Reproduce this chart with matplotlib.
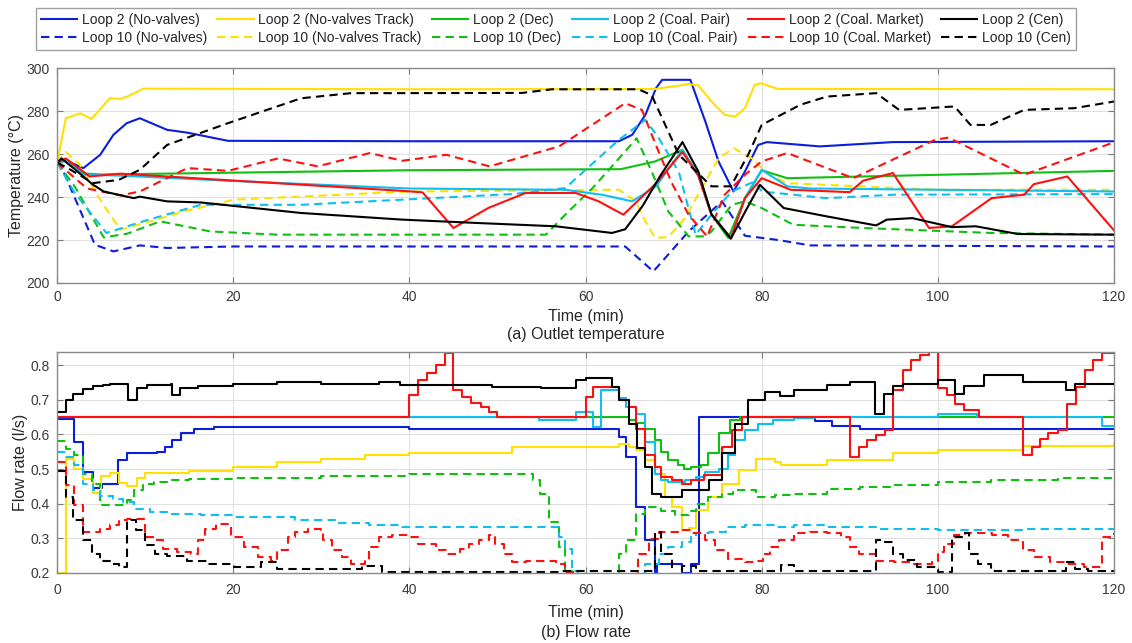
import matplotlib
matplotlib.use('Agg')
import matplotlib.pyplot as plt

plt.rcParams['font.family'] = ['Liberation Sans', 'DejaVu Sans']

# ---- (a) outlet temperature ----
t_temp_l2_nv = [0, 1, 3, 4.9, 6.4, 7.9, 9.4, 12.5, 14.8, 19.4, 40, 63.8, 65.3, 66.8, 68, 68.7, 71.9, 73.6, 75.1, 76.8, 78.1, 79.6, 80.6, 86.6, 94.9, 120]
temp_l2_nv = [256, 257, 253.5, 259.7, 269, 274.4, 276.7, 271.3, 270, 266.2, 266, 266, 269, 278.3, 290.7, 294.6, 294.6, 275.2, 256.6, 242.6, 251.9, 264.3, 265.6, 263.6, 265.6, 266]
t_temp_l10_nv = [0, 0.3, 2.5, 4.3, 6.4, 9.4, 12.5, 20, 64.5, 67.7, 71.7, 75.5, 78.1, 81.9, 85.5, 120]
temp_l10_nv = [256, 256, 235, 217.8, 214.7, 217.5, 216.3, 217, 217, 205.4, 224, 238, 222, 220, 217.5, 217]

t_temp_l2_nvt = [0, 1, 2.6, 3.9, 6, 7.2, 8.1, 9.8, 40, 67.9, 71.7, 72.8, 74.3, 75.8, 77, 78.1, 79.2, 79.9, 81.8, 120]
temp_l2_nvt = [256, 276.7, 279, 276.4, 286, 285.7, 287, 290.5, 290.2, 290.3, 292.6, 292, 284.5, 278.3, 277.5, 281.4, 292.2, 293, 290.4, 290.2]
t_temp_l10_nvt = [0, 1, 2.6, 5, 7.2, 10, 14.4, 20.1, 40, 63.8, 65.7, 66.8, 67.9, 69.4, 71.3, 73.2, 75.1, 76.8, 78.9, 80.8, 82.9, 91.1, 100, 120]
temp_l10_nvt = [256, 261, 255, 238, 224.8, 228, 233.3, 238.8, 242.6, 243.4, 238, 228.7, 220.9, 221.5, 230.2, 244.2, 258, 262.8, 258, 250.4, 246.5, 245, 243.4, 243.4]

t_temp_l2_dec = [0, 1, 3, 5, 40, 64, 67.9, 71, 72.8, 74.3, 76.2, 78.1, 80, 82.9, 120]
temp_l2_dec = [256, 257, 251, 250.5, 252.5, 253, 256.6, 262, 250.4, 231.8, 221, 239.5, 252.5, 248.8, 252.2]
t_temp_l10_dec = [0, 2, 5.3, 8, 11.7, 17.4, 25, 55.5, 57.7, 60.8, 63.8, 65.8, 67.5, 69.4, 71.7, 73.6, 74.3, 76.6, 78.1, 80, 83.6, 91.5, 106, 120]
temp_l10_dec = [256, 245, 221.2, 223, 228.7, 224, 222.5, 222.5, 231.8, 244.2, 258, 267.4, 252, 233.3, 221.7, 221.7, 224, 236.4, 238, 234.9, 227.1, 225.6, 223.3, 222.5]

t_temp_l2_cp = [0, 1, 3, 7, 20, 40, 57.7, 62, 65.3, 68, 71, 72.8, 74.3, 76.5, 78.1, 80, 82.9, 85.5, 120]
temp_l2_cp = [256, 257, 250.5, 250, 247.5, 244, 243.4, 241, 238, 245, 262, 250, 232, 221, 239.5, 252.7, 245, 244, 242.6]
t_temp_l10_cp = [0, 2, 5.6, 10, 16.3, 27.7, 39.2, 51.7, 57.7, 63.8, 66.8, 68.3, 70.6, 72.5, 74.3, 76.6, 79.2, 80, 87.4, 95, 120]
temp_l10_cp = [256, 242, 223.3, 229, 236.4, 236.4, 238.8, 241.4, 244.2, 266.7, 276, 267.6, 251.6, 222.5, 231.8, 242.6, 247.3, 242.6, 239.5, 241.1, 241.4]

t_temp_l2_cm = [0, 1, 3.7, 7.2, 39.2, 41.5, 45, 49, 53.2, 58.9, 61.5, 64.3, 67.9, 71, 72.8, 74.3, 76.5, 78.1, 80, 83.3, 90, 91.5, 94.9, 99, 101.6, 106.1, 109.8, 110.9, 114.7, 120]
temp_l2_cm = [256, 258, 249.6, 250.9, 242.9, 242.2, 225.6, 235, 241.9, 241.9, 238, 231.8, 246, 261, 250, 231.8, 221, 239.5, 248.8, 243.4, 242.3, 247.6, 251.2, 225.6, 226.4, 239.5, 241.1, 246, 249.6, 224.5]
t_temp_l10_cm = [0, 3.4, 7.2, 9.4, 14.8, 19.4, 25.1, 29.6, 35.5, 39.2, 44.2, 49.1, 57, 64.5, 66.4, 67.9, 69.8, 71.7, 73.8, 75.8, 78.1, 80, 82.9, 90.4, 99.7, 101.2, 109.8, 120]
temp_l10_cm = [256, 244, 240.8, 242.6, 253.5, 252.2, 258, 254.3, 260.5, 256.9, 259.7, 254.3, 263.6, 283.7, 280.6, 265.1, 246.5, 231.8, 221.7, 241.1, 250.4, 256.6, 260.5, 248.8, 266.7, 267.7, 250.4, 265.5]

t_temp_l2_cen = [0, 0.5, 2, 4.1, 5.3, 8.7, 9.4, 12.5, 16.3, 27.7, 39.2, 47.9, 56.6, 63, 64.5, 66.5, 68.5, 71, 72.8, 74.3, 76.5, 78.1, 79.8, 82.5, 87.4, 93, 94.2, 97.1, 101.6, 104.3, 109.1, 120]
temp_l2_cen = [256, 258, 253, 245.7, 242.6, 239.5, 240.2, 238, 237.5, 232.6, 229.5, 227.9, 226.4, 223.3, 225, 236, 250, 265.6, 252, 232, 220.6, 233, 245.7, 234.9, 231, 226.8, 229.5, 230.2, 226, 226.4, 222.8, 222.5]
t_temp_l10_cen = [0, 1, 4.1, 7, 9.4, 12.5, 19.4, 27.7, 33.4, 39.2, 52.8, 56.2, 66, 67.5, 70.6, 74.3, 76.5, 78.5, 80, 84.4, 87.4, 93, 95.6, 101.9, 103.7, 106, 109.8, 115.5, 120]
temp_l10_cen = [256, 254, 246.5, 248, 252.7, 264.3, 274.4, 286, 288.4, 288.4, 288.5, 290.2, 290.2, 287.5, 259.7, 245, 245, 260, 273.6, 283, 286.8, 288.4, 280.6, 282.2, 273.6, 273.6, 280.6, 281.4, 284.5]

# ---- (b) flow rate (stepwise); Loop 10 No-valves / No-valves Track stay below the visible range ----
t_flow_l2_nv = [0, 1.9, 3, 4.1, 5.1, 6.9, 7.9, 11.4, 12.2, 13, 14.1, 15.5, 17.8, 40, 62.6, 63.8, 64.6, 65.7, 66.8, 67.9, 68.1, 70.9, 72, 72.9, 86.1, 88, 91.2, 120]
flow_l2_nv = [0.645, 0.578, 0.492, 0.444, 0.458, 0.526, 0.545, 0.55, 0.564, 0.583, 0.603, 0.617, 0.62, 0.617, 0.617, 0.593, 0.535, 0.39, 0.294, 0.2, 0.225, 0.2, 0.225, 0.65, 0.64, 0.625, 0.617, 0.617]

t_flow_l2_nvt = [0, 1, 1.9, 3, 4.1, 5, 6, 7, 7.9, 9.1,
                 10, 15, 20, 25, 30, 35, 40, 51.7, 63.8, 64.9,
                 65.7, 66.8, 67.9, 69, 69.8, 70.9, 71.7, 72.5, 73.9, 75.5,
                 77.4, 79.3, 81.5, 82.2, 84.8, 87.4, 94.9, 100, 109.7, 120]
flow_l2_nvt = [0.2, 0.53, 0.5, 0.47, 0.43, 0.48, 0.49, 0.46, 0.45, 0.475,
               0.49, 0.495, 0.505, 0.52, 0.53, 0.54, 0.547, 0.564, 0.572, 0.565,
               0.554, 0.525, 0.487, 0.419, 0.39, 0.323, 0.33, 0.381, 0.419, 0.458,
               0.497, 0.53, 0.52, 0.511, 0.511, 0.525, 0.545, 0.556, 0.566, 0.572]

t_flow_l2_dec = [0, 64.9, 65.7, 66.8, 67.9, 68.6, 69.4, 70.5, 71.2, 72, 73.1, 73.9, 75.1, 76.4, 77.5, 120]
flow_l2_dec = [0.651, 0.641, 0.632, 0.617, 0.583, 0.55, 0.525, 0.511, 0.5, 0.505, 0.511, 0.545, 0.603, 0.641, 0.651, 0.651]
t_flow_l10_dec = [0, 1, 1.9, 3, 4, 4.9, 7.9, 8.7, 9.8, 11,
                  12.5, 15, 20, 30, 40, 53.6, 54, 54.8, 55.8, 57,
                  57.7, 58.5, 63.8, 64.6, 65.7, 66.8, 68.6, 70.2, 71.7, 72.5,
                  73.9, 75.5, 76.8, 79.3, 81.5, 83.7, 87.4, 91.2, 94.9, 100,
                  106, 113.6, 120]
flow_l10_dec = [0.58, 0.559, 0.54, 0.487, 0.458, 0.395, 0.412, 0.439, 0.458, 0.463,
                0.468, 0.472, 0.475, 0.48, 0.485, 0.487, 0.468, 0.429, 0.347, 0.275,
                0.207, 0.198, 0.256, 0.295, 0.371, 0.39, 0.38, 0.366, 0.38, 0.40,
                0.419, 0.429, 0.439, 0.419, 0.424, 0.429, 0.443, 0.448, 0.455, 0.463,
                0.468, 0.475, 0.479]

t_flow_l2_cp = [0, 54.7, 58.9, 60.8, 61.8, 63.8, 64.6, 65.7, 66.8, 67.9, 68.6, 69.4, 71.3, 72.5, 73.6, 75.1, 76.2, 77, 78.1, 79.6, 81.3, 82, 83.7, 86.1, 100, 104.5, 118.6, 120]
flow_l2_cp = [0.651, 0.641, 0.665, 0.622, 0.728, 0.704, 0.68, 0.66, 0.578, 0.487, 0.468, 0.463, 0.468, 0.477, 0.492, 0.5, 0.54, 0.583, 0.612, 0.631, 0.641, 0.641, 0.648, 0.651, 0.66, 0.651, 0.624, 0.624]
t_flow_l10_cp = [0, 1, 1.9, 3, 4.1, 4.9, 6.4, 7.5, 8.7, 10.6, 12.5, 16.3, 20.1, 27, 31.5, 35.4, 39.2, 57, 57.7, 58.5, 59.2, 66.8, 68.3, 69.4, 70.9, 72, 72.5, 74, 76, 78.1, 81.5, 83.7, 87.4, 93, 100, 109.7, 120]
flow_l10_cp = [0.55, 0.535, 0.511, 0.458, 0.439, 0.421, 0.415, 0.405, 0.386, 0.376, 0.371, 0.367, 0.362, 0.352, 0.345, 0.338, 0.333, 0.304, 0.27, 0.207, 0.198, 0.227, 0.256, 0.275, 0.289, 0.304, 0.314, 0.318, 0.333, 0.338, 0.333, 0.338, 0.333, 0.328, 0.323, 0.328, 0.323]

t_flow_l2_cm = [0, 40, 41, 42, 43, 44, 45, 46, 47, 48.1,
                49, 50, 60, 60.8, 62.6, 63.8, 64.9, 65.7, 66.8, 67.9,
                68.6, 69.8, 70.9, 72, 73.5, 75.5, 76.6, 77.8, 90, 91,
                92, 93, 94, 94.9, 96, 97, 98, 99, 100, 101,
                102, 103, 104.7, 109.7, 110.7, 111.6, 112.5, 113.6, 114.7, 115.7,
                116.7, 117.6, 118.6, 120]
flow_l2_cm = [0.651, 0.713, 0.757, 0.776, 0.8, 0.834, 0.728, 0.709, 0.69, 0.68,
              0.665, 0.651, 0.708, 0.737, 0.737, 0.699, 0.68, 0.617, 0.54, 0.506,
              0.477, 0.468, 0.458, 0.468, 0.482, 0.564, 0.612, 0.651, 0.535, 0.564,
              0.583, 0.597, 0.612, 0.728, 0.786, 0.814, 0.829, 0.84, 0.733, 0.713,
              0.689, 0.67, 0.651, 0.54, 0.564, 0.588, 0.603, 0.612, 0.689, 0.737,
              0.786, 0.814, 0.834, 0.834]
t_flow_l10_cm = [0, 1, 1.9, 3, 4.9, 6, 7, 7.9, 10, 11.1,
                 12, 13.6, 15.2, 16, 16.8, 18, 19.7, 21.2, 22.8, 24.3,
                 25, 26.2, 27, 28.5, 30, 30.2, 31.2, 32.3, 33.4, 35,
                 35.4, 36.5, 38, 40, 41, 43, 44.2, 45.7, 46.8, 47.9,
                 49, 49.7, 50.8, 51.7, 53.2, 56.6, 57.7, 59.2, 66, 67.2,
                 68.3, 70.5, 72, 73.6, 74.7, 76.2, 78.1, 79.4, 80.2, 81,
                 82, 83.7, 85.5, 87.4, 89, 90, 91.1, 93, 95, 96.8,
                 99.3, 100, 100.7, 101.8, 103.1, 106.1, 108, 109.7, 110.9, 112.7,
                 114.5, 116.6, 118.6, 120]
flow_l10_cm = [0.52, 0.453, 0.395, 0.318, 0.328, 0.338, 0.352, 0.357, 0.304, 0.294,
               0.27, 0.26, 0.256, 0.294, 0.328, 0.342, 0.304, 0.275, 0.246, 0.236,
               0.265, 0.304, 0.318, 0.328, 0.323, 0.294, 0.265, 0.246, 0.227, 0.236,
               0.275, 0.304, 0.309, 0.304, 0.285, 0.265, 0.256, 0.27, 0.285, 0.294,
               0.309, 0.285, 0.256, 0.232, 0.236, 0.227, 0.203, 0.198, 0.256, 0.299,
               0.318, 0.323, 0.314, 0.294, 0.265, 0.241, 0.232, 0.236, 0.256, 0.275,
               0.294, 0.314, 0.318, 0.314, 0.304, 0.275, 0.256, 0.236, 0.232, 0.227,
               0.232, 0.26, 0.285, 0.309, 0.314, 0.309, 0.294, 0.265, 0.246, 0.232,
               0.227, 0.217, 0.304, 0.314]

t_flow_l2_cen = [0, 1, 1.8, 3, 4.1, 5.2, 6, 8, 9.1, 10.2,
                 12.9, 13.1, 14, 16, 20, 25, 30, 36.6, 38.9, 49.4,
                 55, 58.9, 60, 63, 63.8, 64.9, 65.8, 66.8, 67.5, 68.6,
                 70.9, 72.5, 74, 75.5, 77, 78.5, 80.4, 82.1, 83.7, 87.4,
                 90, 92.9, 93.9, 94.9, 96, 100, 101.9, 103, 105.2, 109.7,
                 114.5, 115.6, 120]
flow_l2_cen = [0.665, 0.70, 0.718, 0.73, 0.74, 0.744, 0.747, 0.699, 0.733, 0.742,
               0.747, 0.713, 0.735, 0.74, 0.747, 0.75, 0.745, 0.752, 0.742, 0.737,
               0.733, 0.757, 0.764, 0.737, 0.699, 0.631, 0.56, 0.506, 0.429, 0.42,
               0.439, 0.44, 0.468, 0.545, 0.631, 0.699, 0.723, 0.71, 0.728, 0.742,
               0.75, 0.658, 0.718, 0.74, 0.747, 0.757, 0.718, 0.74, 0.771, 0.752,
               0.728, 0.747, 0.747]
t_flow_l10_cen = [0, 1, 1.8, 3, 4, 4.9, 6, 7, 7.9, 9,
                  10, 11.1, 12.5, 14.8, 17, 20.1, 23.2, 25, 31.5, 34.6,
                  36.9, 57, 67.9, 68.6, 69.8, 70.9, 72.5, 82.2, 83.7, 93,
                  93.9, 94.9, 96, 97.6, 100, 101.6, 102.7, 103.5, 104.6, 106,
                  114.5, 115.6, 117, 120]
flow_l10_cen = [0.495, 0.42, 0.352, 0.294, 0.256, 0.236, 0.227, 0.217, 0.352, 0.323,
                0.28, 0.256, 0.25, 0.236, 0.227, 0.217, 0.232, 0.212, 0.212, 0.22,
                0.203, 0.207, 0.318, 0.256, 0.198, 0.22, 0.207, 0.222, 0.207, 0.294,
                0.289, 0.256, 0.237, 0.217, 0.203, 0.304, 0.314, 0.256, 0.227, 0.207,
                0.231, 0.212, 0.207, 0.203]

methods = ['No-valves', 'No-valves Track', 'Dec', 'Coal. Pair', 'Coal. Market', 'Cen']
colors = ['#0a1edc', '#ffe000', '#10c010', '#10bff0', '#ff1010', '#000000']

temp_l2 = [(t_temp_l2_nv, temp_l2_nv), (t_temp_l2_nvt, temp_l2_nvt), (t_temp_l2_dec, temp_l2_dec),
           (t_temp_l2_cp, temp_l2_cp), (t_temp_l2_cm, temp_l2_cm), (t_temp_l2_cen, temp_l2_cen)]
temp_l10 = [(t_temp_l10_nv, temp_l10_nv), (t_temp_l10_nvt, temp_l10_nvt), (t_temp_l10_dec, temp_l10_dec),
            (t_temp_l10_cp, temp_l10_cp), (t_temp_l10_cm, temp_l10_cm), (t_temp_l10_cen, temp_l10_cen)]
flow_l2 = [(t_flow_l2_nv, flow_l2_nv), (t_flow_l2_nvt, flow_l2_nvt), (t_flow_l2_dec, flow_l2_dec),
           (t_flow_l2_cp, flow_l2_cp), (t_flow_l2_cm, flow_l2_cm), (t_flow_l2_cen, flow_l2_cen)]
flow_l10 = [None, None, (t_flow_l10_dec, flow_l10_dec),
            (t_flow_l10_cp, flow_l10_cp), (t_flow_l10_cm, flow_l10_cm), (t_flow_l10_cen, flow_l10_cen)]

dash = (0, (4, 2.5))
lw = 1.5
text_col = '#262626'

fig = plt.figure(figsize=(11.32, 6.43), dpi=100)
ax1 = fig.add_axes([0.0504, 0.5599, 0.9337, 0.334])
ax2 = fig.add_axes([0.0504, 0.1089, 0.9337, 0.3437])

handles = []
labels = []
for i in range(6):
    h2, = ax1.plot(*temp_l2[i], color=colors[i], lw=lw)
    h10, = ax1.plot(*temp_l10[i], color=colors[i], lw=lw, linestyle=dash)
    ax2.plot(*flow_l2[i], color=colors[i], lw=lw, drawstyle='steps-post')
    if flow_l10[i] is not None:
        ax2.plot(*flow_l10[i], color=colors[i], lw=lw, linestyle=dash, drawstyle='steps-post')
    handles += [h2, h10]
    labels += ['Loop 2 (%s)' % methods[i], 'Loop 10 (%s)' % methods[i]]

ax1.set_ylim(200, 300)
ax1.set_yticks(range(200, 301, 20))
ax1.set_ylabel('Temperature (°C)', fontsize=11.5, color=text_col, labelpad=2)
ax1.set_xlabel('Time (min)\n(a) Outlet temperature', fontsize=11.5, color=text_col, linespacing=1.25, labelpad=4)

ax2.set_ylim(0.2, 0.838)
ax2.set_yticks([0.2, 0.3, 0.4, 0.5, 0.6, 0.7, 0.8])
ax2.set_ylabel('Flow rate (l/s)', fontsize=11.5, color=text_col, labelpad=2)
ax2.set_xlabel('Time (min)\n(b) Flow rate', fontsize=11.5, color=text_col, linespacing=1.4, labelpad=6)

for ax in (ax1, ax2):
    ax.set_xlim(0, 120)
    ax.set_xticks(range(0, 121, 20))
    ax.grid(True, color='#e0e0e0', linewidth=0.8)
    ax.set_axisbelow(True)
    ax.tick_params(direction='in', length=4, width=0.8, color='#7a7a7a', labelcolor='#3a3a3a',
                   labelsize=10, top=True, right=True, pad=5)
    for sp in ax.spines.values():
        sp.set_color('#8a8a8a')
        sp.set_linewidth(1)
ax2.tick_params(axis='x', pad=7)

leg = fig.legend(handles, labels, ncol=6, loc='upper left', bbox_to_anchor=(36 / 1132, 1 - 8 / 643),
                 fontsize=10, handlelength=2.6, handletextpad=0.35, columnspacing=0.75,
                 labelspacing=0.3, borderpad=0.35, borderaxespad=0, frameon=True, fancybox=False,
                 edgecolor='#a0a0a0', framealpha=1)
leg.get_frame().set_linewidth(1)
for txt in leg.get_texts():
    txt.set_color(text_col)

fig.savefig('out.png', dpi=100)
